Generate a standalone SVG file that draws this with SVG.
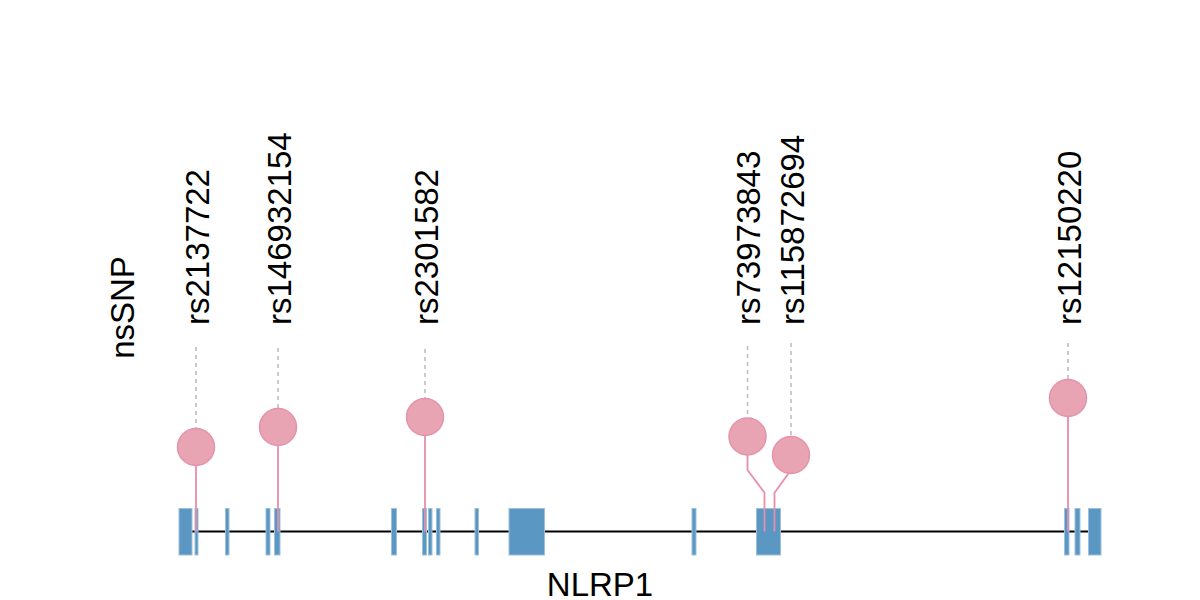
<svg xmlns="http://www.w3.org/2000/svg" width="1200" height="600" viewBox="0 0 1200 600">
<style>
.exon{fill:#5B97C3;stroke:#9DC0DC;stroke-width:1}
.backbone{stroke:#000;stroke-width:1.8;fill:none}
.stem{stroke:#E68EAA;stroke-width:1.8;fill:none}
.guide{stroke:#BDBDBD;stroke-width:1.6;stroke-dasharray:4 4;fill:none}
.head{fill:#E9A4B4;stroke:#E493AA;stroke-width:1.5}
.lbl{font-family:"Liberation Sans",Arial,sans-serif;font-size:33px;fill:#000}
</style>
<rect width="1200" height="600" fill="#fff"/>
<g id="gene">
<line class="backbone" x1="180" y1="531.5" x2="1100" y2="531.5"/>
<rect class="exon" x="179" y="508.5" width="13" height="46.5"/>
<rect class="exon" x="195" y="508.5" width="3" height="46.5"/>
<rect class="exon" x="225.5" y="508.5" width="3.5" height="46.5"/>
<rect class="exon" x="266" y="508.5" width="4" height="46.5"/>
<rect class="exon" x="274.5" y="508.5" width="5.5" height="46.5"/>
<rect class="exon" x="391.5" y="508.5" width="5" height="46.5"/>
<rect class="exon" x="422.5" y="508.5" width="4" height="46.5"/>
<rect class="exon" x="428.5" y="508.5" width="3.5" height="46.5"/>
<rect class="exon" x="436.5" y="508.5" width="3.5" height="46.5"/>
<rect class="exon" x="475" y="508.5" width="3.5" height="46.5"/>
<rect class="exon" x="509" y="508.5" width="35.5" height="46.5"/>
<rect class="exon" x="692" y="508.5" width="4" height="46.5"/>
<rect class="exon" x="756.5" y="508.5" width="24" height="46.5"/>
<rect class="exon" x="1064.5" y="508.5" width="4.5" height="46.5"/>
<rect class="exon" x="1075" y="508.5" width="5" height="46.5"/>
<rect class="exon" x="1088.5" y="508.5" width="12.5" height="46.5"/>
</g>
<g id="connectors">
<line class="guide" x1="196" y1="347" x2="196" y2="428"/>
<line class="guide" x1="278" y1="348" x2="278" y2="408"/>
<line class="guide" x1="425" y1="349" x2="425" y2="398"/>
<line class="guide" x1="747.5" y1="346" x2="747.5" y2="417"/>
<line class="guide" x1="791" y1="343" x2="791" y2="436"/>
<line class="guide" x1="1068" y1="343" x2="1068" y2="379"/>
<polyline class="stem" points="196,447 196,531.5"/>
<polyline class="stem" points="278,427 278,531.5"/>
<polyline class="stem" points="425,417 425,531.5"/>
<polyline class="stem" points="747.5,436.5 747.5,470 764.5,492.7 764.5,531.5"/>
<polyline class="stem" points="791,455 791,470 774.5,492.7 774.5,531.5"/>
<polyline class="stem" points="1068,398 1068,531.5"/>
</g>
<g id="snp-rs2137722"><circle class="head" cx="196" cy="447" r="18.5"/><text class="lbl" transform="translate(208.5,325) rotate(-90)">rs2137722</text></g>
<g id="snp-rs146932154"><circle class="head" cx="278" cy="427" r="18.5"/><text class="lbl" transform="translate(290.5,325) rotate(-90)">rs146932154</text></g>
<g id="snp-rs2301582"><circle class="head" cx="425" cy="417" r="18.5"/><text class="lbl" transform="translate(437.5,325) rotate(-90)">rs2301582</text></g>
<g id="snp-rs73973843"><circle class="head" cx="747.5" cy="436.5" r="18.5"/><text class="lbl" transform="translate(760,325) rotate(-90)">rs73973843</text></g>
<g id="snp-rs115872694"><circle class="head" cx="791" cy="455" r="18.5"/><text class="lbl" transform="translate(803.5,325) rotate(-90)">rs115872694</text></g>
<g id="snp-rs12150220"><circle class="head" cx="1068" cy="398" r="18.5"/><text class="lbl" transform="translate(1080.5,325) rotate(-90)">rs12150220</text></g>
<g id="axis-labels">
<text class="lbl" text-anchor="middle" x="600" y="596">NLRP1</text>
<text class="lbl" text-anchor="middle" transform="translate(134,307.5) rotate(-90)">nsSNP</text>
</g>
</svg>
